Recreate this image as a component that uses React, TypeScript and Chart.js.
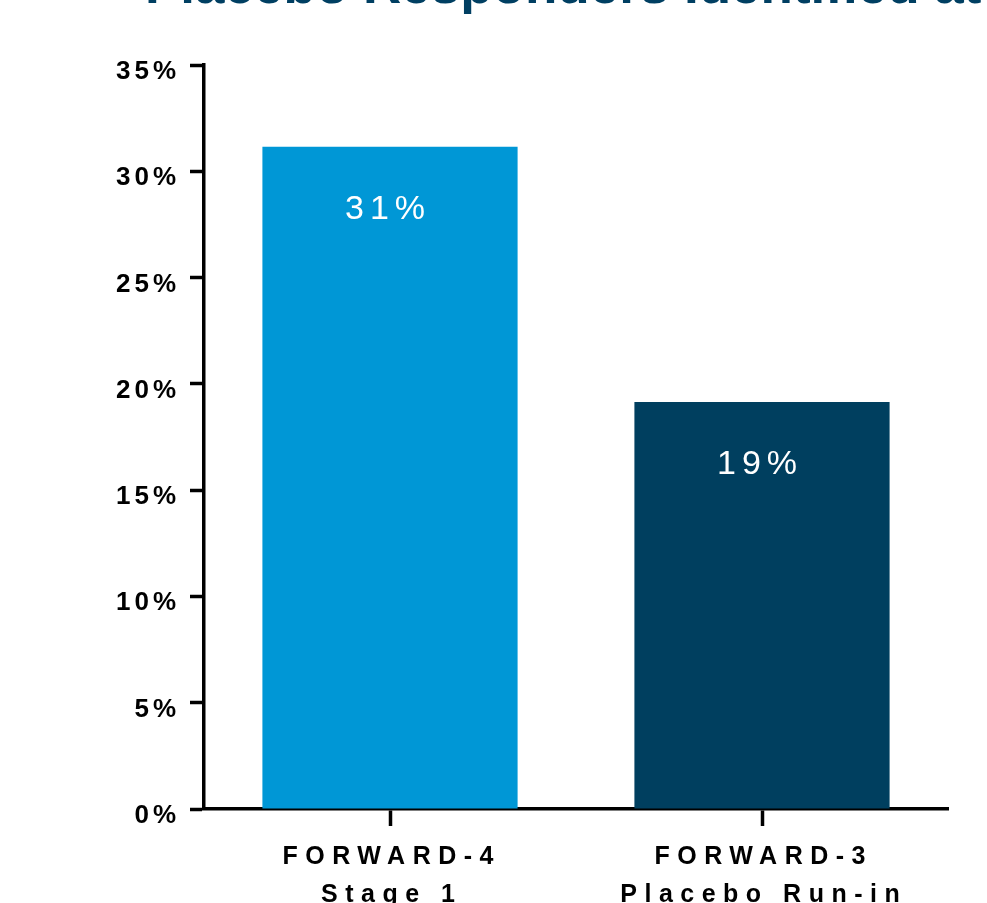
import React, { useEffect, useRef } from "react";
import { Chart, registerables } from "chart.js";

Chart.register(...registerables);

const TITLE = "Placebo Responders Identified at";
const CATEGORIES: string[][] = [
  ["FORWARD-4", "Stage 1"],
  ["FORWARD-3", "Placebo Run-in"],
];
const VALUES: number[] = [31.15, 19.15];
const VALUE_LABELS: string[] = ["31%", "19%"];
const BAR_COLORS: string[] = ["#0097D6", "#003F5F"];
const Y_MIN = 0;
const Y_MAX = 35;
const Y_STEP = 5;

const FONT = '"Liberation Sans", Arial, Helvetica, sans-serif';

const textPlugin = {
  id: "customText",
  afterDraw(chart: any) {
    const ctx = chart.ctx as CanvasRenderingContext2D;
    const xScale = chart.scales.x;
    const yScale = chart.scales.y;
    ctx.save();

    // Title (partly outside the visible area at the top)
    ctx.fillStyle = "#003F62";
    ctx.font = `bold 53px ${FONT}`;
    (ctx as any).letterSpacing = "0px";
    ctx.textAlign = "left";
    ctx.textBaseline = "alphabetic";
    ctx.fillText(TITLE, 145, 3);

    // Y tick labels
    const ySp = 4;
    ctx.fillStyle = "#000000";
    ctx.font = `bold 26px ${FONT}`;
    (ctx as any).letterSpacing = `${ySp}px`;
    ctx.textAlign = "right";
    yScale.ticks.forEach((t: any) => {
      const y = yScale.getPixelForValue(t.value);
      ctx.fillText(`${t.value}%`, 176 + ySp, y + 14);
    });

    // X category labels
    const xSp = 7.5;
    ctx.font = `bold 25px ${FONT}`;
    (ctx as any).letterSpacing = `${xSp}px`;
    ctx.textAlign = "center";
    CATEGORIES.forEach((lines, i) => {
      const x = xScale.getPixelForValue(i);
      lines.forEach((line, j) => {
        ctx.fillText(line, x + xSp / 2 - 2, 864 + j * 38);
      });
    });

    // Value labels inside bars
    const vSp = 6;
    ctx.fillStyle = "#FFFFFF";
    ctx.font = `34px ${FONT}`;
    (ctx as any).letterSpacing = `${vSp}px`;
    ctx.textAlign = "center";
    const meta = chart.getDatasetMeta(0);
    meta.data.forEach((el: any, i: number) => {
      ctx.fillText(VALUE_LABELS[i], el.x + vSp / 2 - 5, el.y + 72);
    });

    ctx.restore();
  },
};

export default function App() {
  const canvasRef = useRef<HTMLCanvasElement | null>(null);

  useEffect(() => {
    if (!canvasRef.current) return;
    const chart = new Chart(canvasRef.current, {
      type: "bar",
      data: {
        labels: CATEGORIES.map((c) => c.join(" ")),
        datasets: [
          {
            data: VALUES,
            backgroundColor: BAR_COLORS,
            borderWidth: 0,
            barPercentage: 0.686,
            categoryPercentage: 1,
          },
        ],
      },
      options: {
        animation: false,
        responsive: true,
        maintainAspectRatio: false,
        layout: { padding: { top: 65, right: 39, bottom: 0, left: 0 } },
        plugins: {
          legend: { display: false },
          title: { display: false },
          tooltip: { enabled: false },
        },
        scales: {
          x: {
            offset: true,
            grid: {
              offset: false,
              drawOnChartArea: false,
              drawTicks: true,
              tickLength: 17,
              tickColor: "#000000",
              tickWidth: 3.5,
            },
            border: { display: true, color: "#000000", width: 3.5 },
            ticks: { display: false },
            afterFit: (scale: any) => {
              scale.height = 94;
            },
          },
          y: {
            min: Y_MIN,
            max: Y_MAX,
            grid: {
              drawOnChartArea: false,
              drawTicks: true,
              tickLength: 14,
              tickColor: "#000000",
              tickWidth: 3.5,
            },
            border: { display: true, color: "#000000", width: 3.5 },
            ticks: { display: false, stepSize: Y_STEP },
            afterFit: (scale: any) => {
              scale.width = 204;
            },
          },
        },
      },
      plugins: [textPlugin],
    });
    return () => chart.destroy();
  }, []);

  return (
    <div
      style={{
        position: "fixed",
        left: 0,
        top: 0,
        width: 987,
        height: 903,
        overflow: "hidden",
        background: "#ffffff",
      }}
    >
      <canvas ref={canvasRef} />
    </div>
  );
}
